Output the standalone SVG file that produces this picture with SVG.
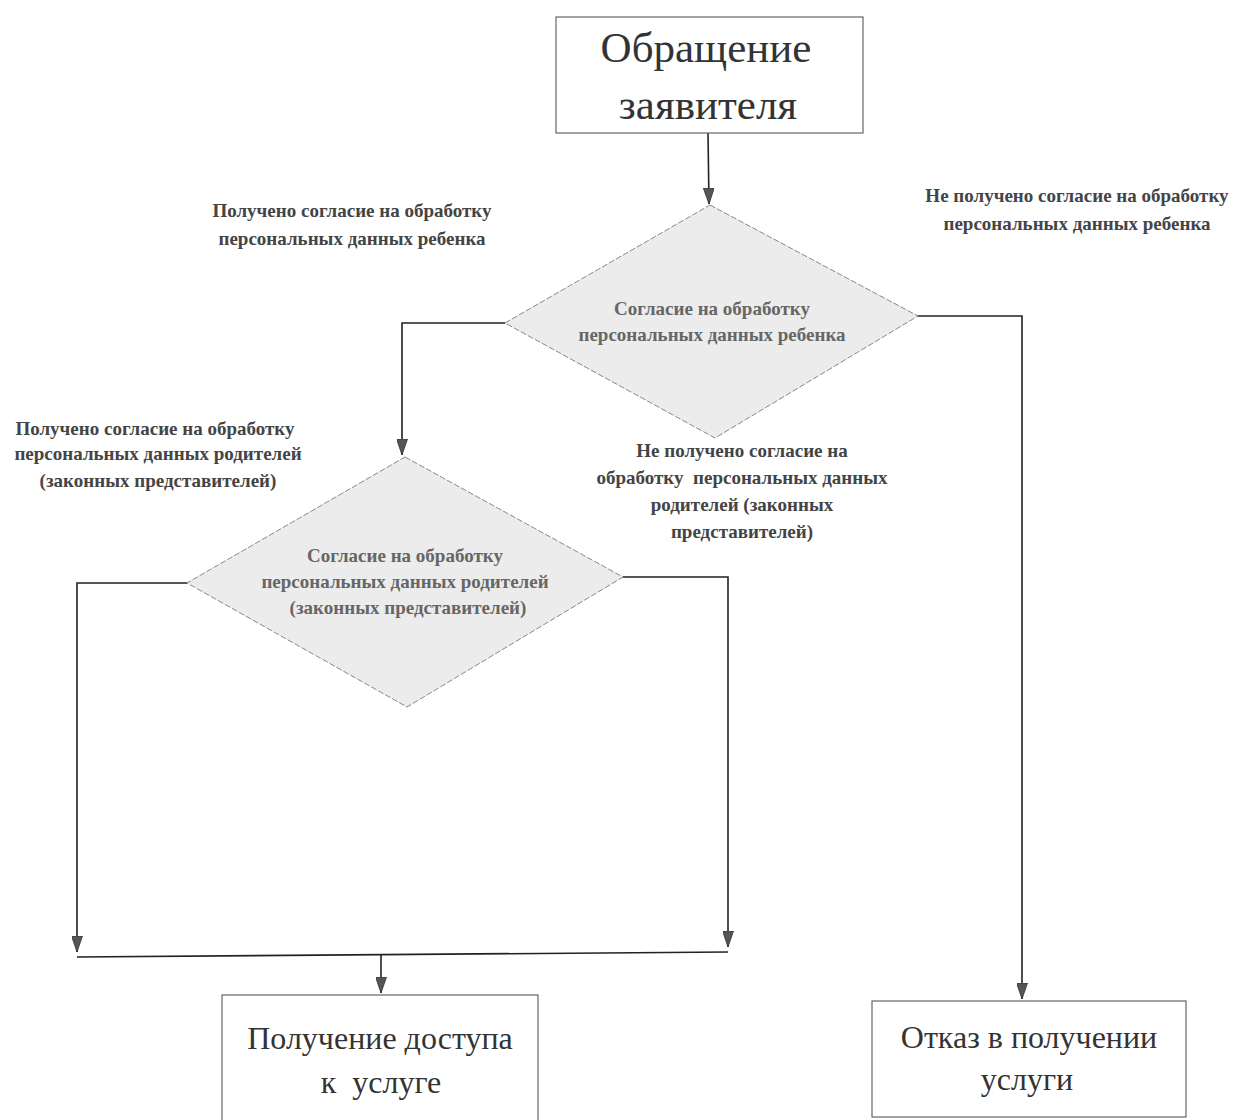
<svg xmlns="http://www.w3.org/2000/svg" width="1235" height="1120" viewBox="0 0 1235 1120">
<defs>
<marker id="arr" markerWidth="16" markerHeight="11" refX="16" refY="5.5" orient="auto" markerUnits="userSpaceOnUse" viewBox="0 0 16 11">
<path d="M0,0 L16,5.5 L0,11 Z" fill="#555" stroke="#333" stroke-width="0.8"/>
</marker>
</defs>
<style>
.box{fill:#fff;stroke:#666;stroke-width:1.2}
.dia{fill:#ececec;stroke:#888;stroke-width:1;stroke-dasharray:6 2}
text{font-family:'Liberation Serif','DejaVu Serif',serif;text-anchor:middle}
.big{font-size:43px;fill:#333}
.big2{font-size:32px;fill:#333}
.lbl{font-size:19px;font-weight:bold;fill:#444}
.in{font-size:19px;font-weight:bold;fill:#666}
.ln{fill:none;stroke:#222;stroke-width:1.6}
</style>
<g id="connectors">
<path class="ln" d="M708,133 L709,204" marker-end="url(#arr)"/>
<path class="ln" d="M505,323 L402,323 L402,455" marker-end="url(#arr)"/>
<path class="ln" d="M918,316 L1022,316 L1022,999" marker-end="url(#arr)"/>
<path class="ln" d="M187,583 L77,583 L77,952" marker-end="url(#arr)"/>
<path class="ln" d="M623,577 L728,577 L728,947" marker-end="url(#arr)"/>
<path class="ln" d="M77,957 L728,952"/>
<path class="ln" d="M381,955 L381,993" marker-end="url(#arr)"/>
</g>
<g id="start">
<rect class="box" x="556" y="17" width="307" height="116"/>
<text class="big" x="706" y="62">Обращение</text>
<text class="big" x="708" y="119">заявителя</text>
</g>
<g id="decision1">
<polygon class="dia" points="710,205 918,316 715,438 505,323"/>
<text class="in" x="712" y="315">Согласие на обработку</text>
<text class="in" x="712" y="341">персональных данных ребенка</text>
</g>
<g id="decision2">
<polygon class="dia" points="405,457 623,577 407,707 187,583"/>
<text class="in" x="405" y="562">Согласие на обработку</text>
<text class="in" x="405" y="588">персональных данных родителей</text>
<text class="in" x="408" y="614">(законных представителей)</text>
</g>
<g id="access">
<rect class="box" x="222" y="995" width="316" height="130"/>
<text class="big2" x="380" y="1049">Получение доступа</text>
<text class="big2" x="381" y="1093" xml:space="preserve">к  услуге</text>
</g>
<g id="refusal">
<rect class="box" x="872" y="1001" width="314" height="116"/>
<text class="big2" x="1029" y="1048">Отказ в получении</text>
<text class="big2" x="1027" y="1090">услуги</text>
</g>
<g id="labels">
<text class="lbl" x="352" y="217">Получено согласие на обработку</text>
<text class="lbl" x="352" y="245">персональных данных ребенка</text>
<text class="lbl" x="1077" y="202">Не получено согласие на обработку</text>
<text class="lbl" x="1077" y="230">персональных данных ребенка</text>
<text class="lbl" x="155" y="435">Получено согласие на обработку</text>
<text class="lbl" x="158" y="460">персональных данных родителей</text>
<text class="lbl" x="158" y="487">(законных представителей)</text>
<text class="lbl" x="742" y="457">Не получено согласие на</text>
<text class="lbl" x="742" y="484" xml:space="preserve">обработку  персональных данных</text>
<text class="lbl" x="742" y="511">родителей (законных</text>
<text class="lbl" x="742" y="538">представителей)</text>
</g>
</svg>
